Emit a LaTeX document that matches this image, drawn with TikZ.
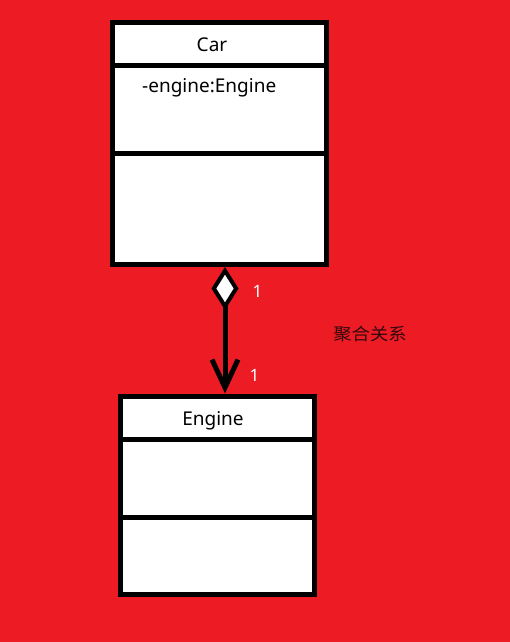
\documentclass[tikz,border=0pt]{standalone}
\usepackage{fontspec}
\setmainfont{Noto Sans}
\newfontfamily\cjk{Noto Sans CJK SC}
\usetikzlibrary{arrows.meta}
\definecolor{bgred}{RGB}{237,28,36}
\definecolor{cjkdark}{RGB}{50,8,12}
\begin{document}
\begin{tikzpicture}[x=1pt,y=-1pt,
  classbox/.style={draw=black,line width=5pt,fill=white,rectangle,inner sep=0pt},
  divider/.style={line width=5pt,draw=black},
  lbl/.style={font=\fontsize{19pt}{20pt}\selectfont,inner sep=0pt,text=black},
  mult/.style={font=\fontsize{17pt}{18pt}\selectfont,inner sep=0pt,text=white},
  aggr/.style={line width=5pt,draw=black,
    {Diamond[open,fill=white,length=43pt,width=27pt,line width=4pt]}-{Straight Barb[length=28pt,width=26pt,line width=5pt]}}
]
\fill[bgred] (0,0) rectangle (510,642);
\useasboundingbox (0,0) rectangle (510,642);

\node[classbox,minimum width=214pt,minimum height=242pt] (car) at (219.5,143.5) {};
\node[classbox,minimum width=194pt,minimum height=198pt] (engine) at (217.5,495) {};

\draw[divider] (car.west |- 0,65.5) -- (car.east |- 0,65.5);
\draw[divider] (car.west |- 0,153) -- (car.east |- 0,153);
\draw[divider] (engine.west |- 0,439) -- (engine.east |- 0,439);
\draw[divider] (engine.west |- 0,517.5) -- (engine.east |- 0,517.5);

\node[lbl] (cartitle) at (212,45) {Car};
\node[lbl,anchor=west] (carattr) at (142,88) {-engine:Engine};
\node[lbl] (enginetitle) at (213,421) {Engine};

\coordinate (con) at (225,0);
\draw[aggr] (car.south -| con) -- (engine.north -| con);

\node[mult] (m1) at (257.5,291.5) {1};
\node[mult] (m2) at (254.5,375.5) {1};
\node[inner sep=0pt,text=cjkdark,font=\cjk\fontsize{17pt}{18pt}\selectfont,xscale=1.08] (rel) at (370,334) {聚合关系};
\end{tikzpicture}
\end{document}
